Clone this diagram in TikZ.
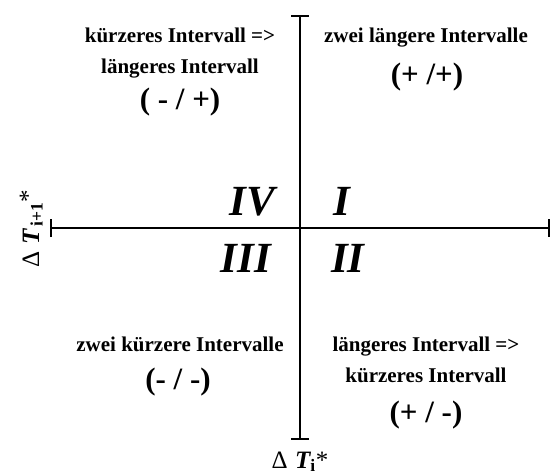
\documentclass[tikz,border=0pt]{standalone}
\usepackage{fontspec}
\setmainfont{Liberation Serif}
\usetikzlibrary{arrows.meta}

\begin{document}
\begin{tikzpicture}[x=1pt, y=-1pt,
txt/.style={font=\fontsize{21}{25}\selectfont\bfseries, anchor=base, inner sep=0pt},
sign/.style={font=\fontsize{31}{35}\selectfont\bfseries, anchor=base, inner sep=0pt},
quad/.style={font=\fontsize{43}{47}\selectfont\bfseries\itshape, inner sep=0pt},
axlabel/.style={font=\fontsize{25}{29}\selectfont, anchor=base, inner sep=0pt},
axis/.style={{Bar[width=18pt]}-{Bar[width=18pt]}, line width=1.6pt}
]
\useasboundingbox (0,0) rectangle (551,476);
\coordinate (left) at (50,228);
\coordinate (right) at (549.5,228);
\coordinate (top) at (300,15);
\coordinate (bottom) at (300,440);
\draw[axis] (left) -- (right);
\draw[axis] (bottom) -- (top);
% quadrants
\node[quad, anchor=base west] (q1) at (333,215) {I};
\node[quad, anchor=base west] (q2) at (331,272) {II};
\node[quad, anchor=base east] (q3) at (271,272) {III};
\node[quad, anchor=base east] (q4) at (275,215) {IV};
% quadrant texts
\node[txt] (tl1) at (180,43) {kürzeres Intervall =>};
\node[txt] (tl2) at (180,74) {längeres Intervall};
\node[sign] (tl3) at (180,110) {( - / +)};
\node[txt] (tr1) at (426,43) {zwei längere Intervalle};
\node[sign] (tr2) at (427,85) {(+ /+)};
\node[txt] (bl1) at (180,351) {zwei kürzere Intervalle};
\node[sign] (bl2) at (178,389) {(- / -)};
\node[txt] (br1) at (426,351) {längeres Intervall =>};
\node[txt] (br2) at (426,382) {kürzeres Intervall};
\node[sign] (br3) at (426,422) {(+ / -)};
% axis labels
\node[axlabel] (xlab) at (300,468) {Δ\hspace{0.3em}{\bfseries\itshape T}\textsubscript{\bfseries i}*};
\node[axlabel, rotate=90] (ylab) at (39,229) {Δ\hspace{0.3em}{\bfseries\itshape T}\hspace{0.1em}\textsubscript{\bfseries i+1}\raisebox{3pt}{*}};
\end{tikzpicture}
\end{document}
